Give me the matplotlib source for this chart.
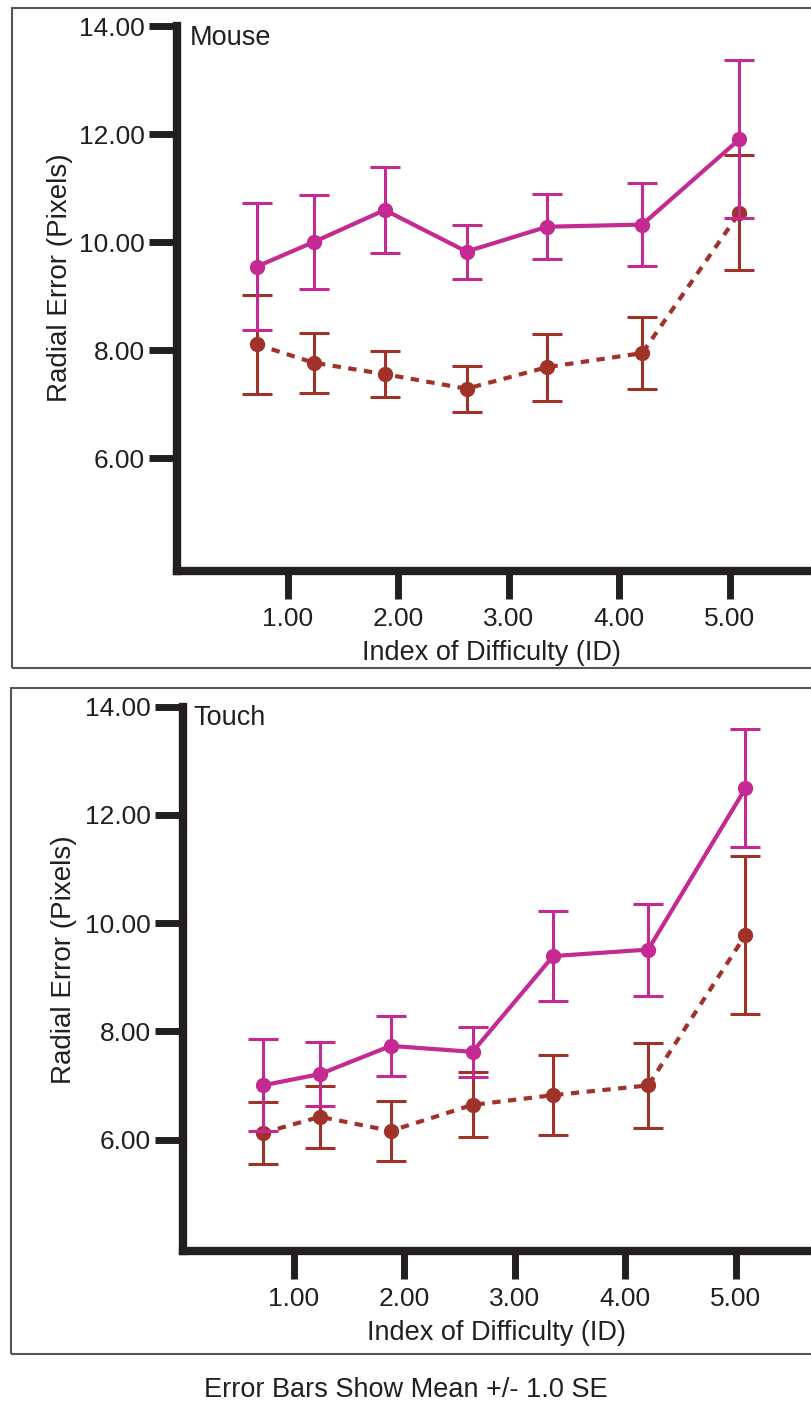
import matplotlib
matplotlib.use('Agg')
import matplotlib.pyplot as plt
from matplotlib.patches import Rectangle

plt.rcParams['font.family'] = ['Liberation Sans', 'DejaVu Sans']

# index of difficulty for each condition
ids = [0.72, 1.24, 1.88, 2.62, 3.35, 4.21, 5.09]

# Mouse panel
mouse_solid_mean = [9.55, 10.01, 10.60, 9.83, 10.29, 10.33, 11.91]
mouse_solid_se = [1.18, 0.87, 0.79, 0.50, 0.60, 0.77, 1.46]
mouse_dashed_mean = [8.11, 7.77, 7.56, 7.29, 7.69, 7.95, 10.55]
mouse_dashed_se = [0.91, 0.56, 0.43, 0.43, 0.62, 0.67, 1.07]

# Touch panel
touch_solid_mean = [7.00, 7.21, 7.73, 7.62, 9.39, 9.51, 12.49]
touch_solid_se = [0.85, 0.59, 0.55, 0.46, 0.83, 0.85, 1.09]
touch_dashed_mean = [6.12, 6.42, 6.16, 6.64, 6.82, 7.00, 9.78]
touch_dashed_se = [0.57, 0.57, 0.55, 0.60, 0.74, 0.78, 1.46]

x_ticks = [1, 2, 3, 4, 5]
x_labels = ['1.00', '2.00', '3.00', '4.00', '5.00']
y_ticks = [6, 8, 10, 12, 14]
y_labels = ['6.00', '8.00', '10.00', '12.00', '14.00']

PINK = '#c42a92'
BROWN = '#a1322a'
INK = '#231f20'
W, H = 811, 1402

fig = plt.figure(figsize=(W / 100, H / 100), dpi=100)


def draw_panel(ax, s_mean, s_se, d_mean, d_se, ymin):
    ax.errorbar(ids, d_mean, yerr=d_se, color=BROWN, marker='o', markersize=10,
                linestyle=(0, (2, 1.8)), linewidth=3, elinewidth=2.2,
                capsize=11, capthick=2.2, zorder=3)
    ax.errorbar(ids, s_mean, yerr=s_se, color=PINK, marker='o', markersize=10,
                linestyle='-', linewidth=3, elinewidth=2.2,
                capsize=11, capthick=2.2, zorder=4)
    ax.set_xlim(0, 6)
    ax.set_ylim(ymin, 14)
    ax.set_xticks(x_ticks)
    ax.set_xticklabels(x_labels)
    ax.set_yticks(y_ticks)
    ax.set_yticklabels(y_labels)
    for side in ['top', 'right']:
        ax.spines[side].set_visible(False)
    for side in ['left', 'bottom']:
        ax.spines[side].set_linewidth(6)
        ax.spines[side].set_color(INK)
    ax.tick_params(axis='both', length=20, width=5, color=INK,
                   labelcolor=INK, labelsize=19)
    ax.tick_params(axis='x', pad=6)
    ax.tick_params(axis='y', pad=3)
    ax.patch.set_visible(False)


# top panel (Mouse)
fig.patches.append(Rectangle((12 / W, 1 - 668 / H), 1.2, 660 / H, transform=fig.transFigure,
                             fill=False, edgecolor='#555555', linewidth=1.5))
ax1 = fig.add_axes([177 / W, 1 - 570.7 / H, 663 / W, 544.3 / H])
draw_panel(ax1, mouse_solid_mean, mouse_solid_se, mouse_dashed_mean, mouse_dashed_se, 3.92)
fig.text(190 / W, 1 - 45 / H, 'Mouse', fontsize=19.5, color=INK, va='baseline')
fig.text(491 / W, 1 - 653 / H, 'Index of Difficulty (ID)', fontsize=19.5, color=INK,
         ha='center', va='center')
fig.text(60 / W, 1 - 278 / H, 'Radial Error (Pixels)', fontsize=20, color=INK,
         ha='center', va='center', rotation=90)

# bottom panel (Touch)
fig.patches.append(Rectangle((11 / W, 1 - 1354 / H), 1.2, 666 / H, transform=fig.transFigure,
                             fill=False, edgecolor='#555555', linewidth=1.5))
ax2 = fig.add_axes([183 / W, 1 - 1251 / H, 663 / W, 544.4 / H])
draw_panel(ax2, touch_solid_mean, touch_solid_se, touch_dashed_mean, touch_dashed_se, 3.94)
fig.text(193 / W, 1 - 725 / H, 'Touch', fontsize=19.5, color=INK, va='baseline')
fig.text(496 / W, 1 - 1333 / H, 'Index of Difficulty (ID)', fontsize=19.5, color=INK,
         ha='center', va='center')
fig.text(64 / W, 1 - 960 / H, 'Radial Error (Pixels)', fontsize=20, color=INK,
         ha='center', va='center', rotation=90)

fig.text(406 / W, 1 - 1390 / H, 'Error Bars Show Mean +/- 1.0 SE', fontsize=19.5,
         color=INK, ha='center', va='center')

fig.savefig('out.png', dpi=100)
